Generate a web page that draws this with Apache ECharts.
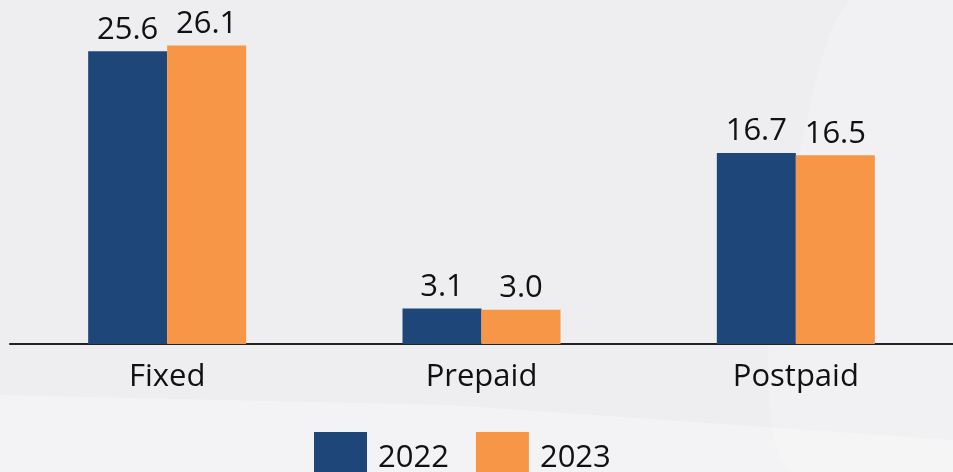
<!DOCTYPE html>
<html>
<head>
<meta charset="utf-8">
<script src="https://cdn.jsdelivr.net/npm/echarts@6/dist/echarts.min.js"></script>
<style>
  html, body { margin: 0; padding: 0; background: #eeeef1; }
  #main { width: 953px; height: 472px; }
</style>
</head>
<body>
<div id="main"></div>
<script>
// data
const categories = ['Fixed', 'Prepaid', 'Postpaid'];
const seriesNames = ['2022', '2023'];
const values2022 = [25.6, 3.1, 16.7];
const values2023 = [26.1, 3.0, 16.5];
const seriesColors = ['#1f4679', '#f79646'];

const chart = echarts.init(document.getElementById('main'));

const labelStyle = {
  show: true,
  position: 'top',
  distance: 6,
  color: '#111',
  fontFamily: 'Open Sans',
  fontSize: 31,
  formatter: (p) => p.value.toFixed(1),
};

chart.setOption({
  backgroundColor: '#eeeef1',
  animation: false,
  // faint background swooshes
  graphic: [
    {
      type: 'polygon',
      silent: true,
      z: -10,
      shape: { points: [[850, 0], [800, 150], [770, 300], [790, 472], [953, 472], [953, 0]], smooth: 0.3 },
      style: { fill: 'rgba(255,255,255,0.2)' },
    },
    {
      type: 'polygon',
      silent: true,
      z: -10,
      shape: { points: [[0, 395], [450, 405], [953, 440], [953, 472], [0, 472]] },
      style: { fill: 'rgba(255,255,255,0.3)' },
    },
  ],
  grid: { left: 10, top: 1, width: 947, height: 343 },
  legend: {
    data: seriesNames,
    left: 309,
    top: 427,
    itemWidth: 53,
    itemHeight: 53,
    itemGap: 27,
    icon: 'rect',
    textStyle: {
      fontFamily: 'Open Sans',
      fontSize: 31,
      color: '#111',
      padding: [0, 0, 10, 6],
    },
  },
  xAxis: {
    type: 'category',
    data: categories,
    axisLine: { lineStyle: { color: '#222', width: 2 } },
    axisTick: { show: false },
    axisLabel: {
      margin: 18,
      color: '#111',
      fontFamily: 'Open Sans',
      fontSize: 31,
    },
  },
  yAxis: {
    type: 'value',
    min: 0,
    max: 30,
    show: false,
    splitLine: { show: false },
  },
  series: [
    {
      name: seriesNames[0],
      type: 'bar',
      data: values2022,
      barWidth: 79,
      barGap: '0%',
      itemStyle: { color: seriesColors[0] },
      label: labelStyle,
    },
    {
      name: seriesNames[1],
      type: 'bar',
      data: values2023,
      barWidth: 79,
      barGap: '0%',
      itemStyle: { color: seriesColors[1] },
      label: labelStyle,
    },
  ],
});
</script>
</body>
</html>
